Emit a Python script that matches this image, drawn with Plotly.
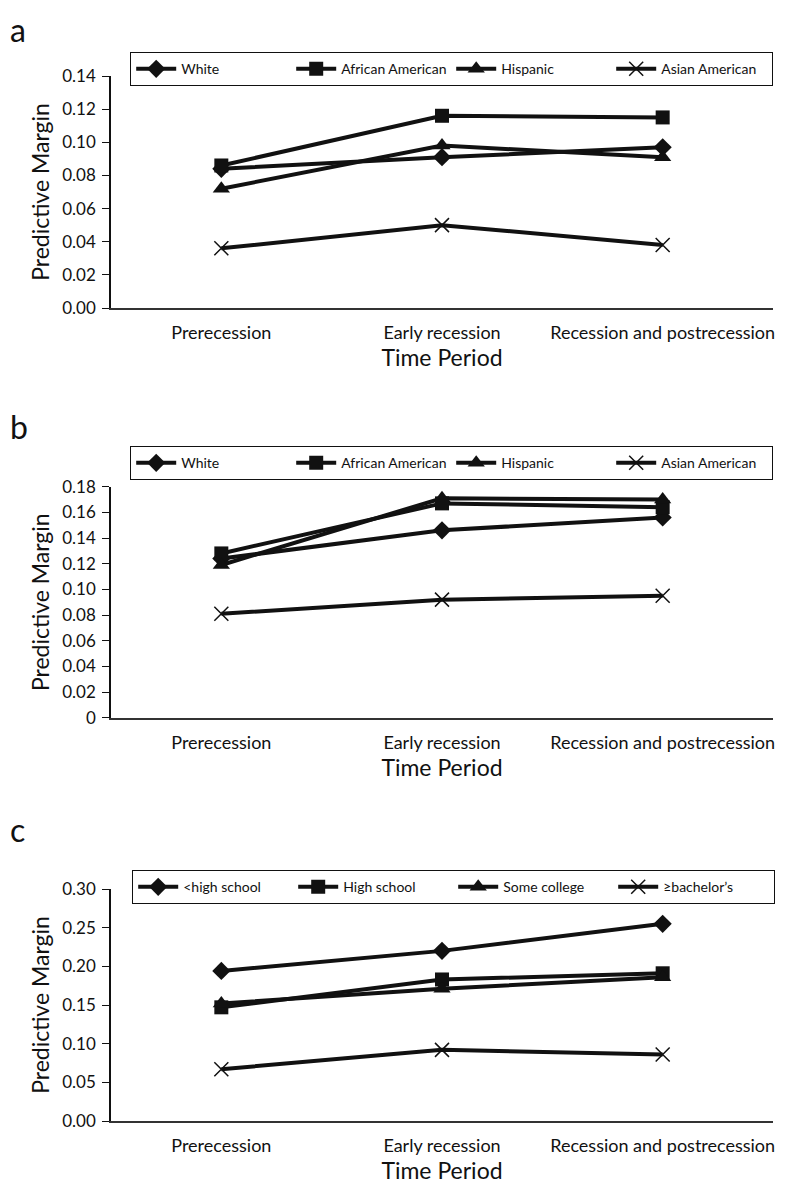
import plotly.graph_objects as go

periods = ["Prerecession", "Early recession", "Recession and postrecession"]

race_groups = ["White", "African American", "Hispanic", "Asian American"]
edu_groups = ["<high school", "High school", "Some college", "≥bachelor’s"]

# Panel a
a_white = [0.084, 0.091, 0.097]
a_black = [0.086, 0.116, 0.115]
a_hisp = [0.072, 0.098, 0.091]
a_asian = [0.036, 0.050, 0.038]

# Panel b
b_white = [0.124, 0.146, 0.156]
b_black = [0.128, 0.167, 0.164]
b_hisp = [0.119, 0.171, 0.170]
b_asian = [0.081, 0.092, 0.095]

# Panel c
c_lths = [0.194, 0.220, 0.255]
c_hs = [0.147, 0.183, 0.191]
c_some = [0.152, 0.171, 0.186]
c_ba = [0.067, 0.092, 0.086]

a_ticks = [0.00, 0.02, 0.04, 0.06, 0.08, 0.10, 0.12, 0.14]
b_ticks = [0, 0.02, 0.04, 0.06, 0.08, 0.10, 0.12, 0.14, 0.16, 0.18]
b_ticktext = ["0", "0.02", "0.04", "0.06", "0.08", "0.10", "0.12", "0.14", "0.16", "0.18"]
c_ticks = [0.00, 0.05, 0.10, 0.15, 0.20, 0.25, 0.30]

FONT = "Lato, 'Open Sans', sans-serif"
INK = "#111111"

# page has an 8px body margin; work in page pixels and convert
OFF = 8
W, H = 790 - 2 * OFF, 1193 - 2 * OFF
PLOT_LEFT, PLOT_RIGHT = 111, 773          # page px
L = PLOT_LEFT - OFF
R = W - (PLOT_RIGHT - OFF)
PW = W - L - R

def px_x(page_x):
    return (page_x - OFF - L) / PW

def px_y(page_y):
    return 1 - (page_y - OFF) / H

symbols = ["diamond", "square", "triangle-up", "x-thin"]
sizes = [14, 14, 15, 14]

fig = go.Figure()

panels = [
    (race_groups, [a_white, a_black, a_hisp, a_asian], "", "legend"),
    (race_groups, [b_white, b_black, b_hisp, b_asian], "2", "legend2"),
    (edu_groups, [c_lths, c_hs, c_some, c_ba], "3", "legend3"),
]

for names, series, ax, leg in panels:
    for name, vals, sym, sz in zip(names, series, symbols, sizes):
        thin = sym == "x-thin"
        fig.add_trace(go.Scatter(
            x=periods, y=vals, name=name, mode="lines+markers",
            xaxis="x" + ax, yaxis="y" + ax, legend=leg,
            line=dict(color=INK, width=4),
            marker=dict(symbol=sym, size=sz, color=INK,
                        line=dict(color=INK, width=1.5 if thin else 0)),
            cliponaxis=False,
        ))

doms = [[px_y(308), px_y(76)], [px_y(717.7), px_y(486.7)], [px_y(1121), px_y(889)]]
yranges = [[0, 0.14], [0, 0.18], [0, 0.30]]
ytickvals = [a_ticks, b_ticks, c_ticks]
yticktexts = [[f"{v:.2f}" for v in a_ticks], b_ticktext, [f"{v:.2f}" for v in c_ticks]]

layout = dict(
    width=W, height=H,
    margin=dict(l=L, r=R, t=0, b=0),
    paper_bgcolor="white", plot_bgcolor="white",
    font=dict(family=FONT, color=INK),
    showlegend=True,
)

for i, ax in enumerate(["", "2", "3"]):
    layout["xaxis" + ax] = dict(
        domain=[0, 1], anchor="y" + ax, type="category",
        range=[-0.5, 2.5], showgrid=False, zeroline=False,
        showline=True, linecolor="#333333", linewidth=1.5,
        ticks="outside", ticklen=8, tickcolor="rgba(0,0,0,0)",
        tickfont=dict(size=18, family=FONT, color=INK),
        title=dict(text="Time Period", font=dict(size=23, family=FONT, color=INK), standoff=8),
        automargin=False,
    )
    layout["yaxis" + ax] = dict(
        domain=doms[i], anchor="x" + ax, range=yranges[i],
        tickmode="array", tickvals=ytickvals[i], ticktext=yticktexts[i],
        showgrid=False, zeroline=False,
        showline=True, linecolor=INK, linewidth=1.5,
        ticks="outside", ticklen=7, tickwidth=1.2, tickcolor=INK,
        ticklabelstandoff=3,
        tickfont=dict(size=17, family=FONT, color=INK),
        title=dict(text="Predictive Margin", font=dict(size=23, family=FONT, color=INK), standoff=6),
        automargin=False,
    )

legend_tops = [55, 449, 873]
legend_lefts = [130, 130, 132]
for i, key in enumerate(["legend", "legend2", "legend3"]):
    layout[key] = dict(
        orientation="h", x=px_x(legend_lefts[i]), xanchor="left",
        y=px_y(legend_tops[i] - 3), yanchor="top",
        bgcolor="white", bordercolor=INK, borderwidth=1.2,
        font=dict(size=14, family=FONT, color=INK),
        itemwidth=40, entrywidth=105, entrywidthmode="pixels",
        itemclick=False, itemdoubleclick=False,
    )

fig.update_layout(**layout)

# panel letters: (text, page y of box top)
for label, ytop in [("a", OFF), ("b", 405), ("c", 808)]:
    fig.add_annotation(text=label, x=px_x(OFF), xref="paper", xanchor="left",
                       y=px_y(ytop), yref="paper", yanchor="top",
                       showarrow=False, font=dict(size=32, family=FONT, color=INK))

fig.write_html("out.html")
